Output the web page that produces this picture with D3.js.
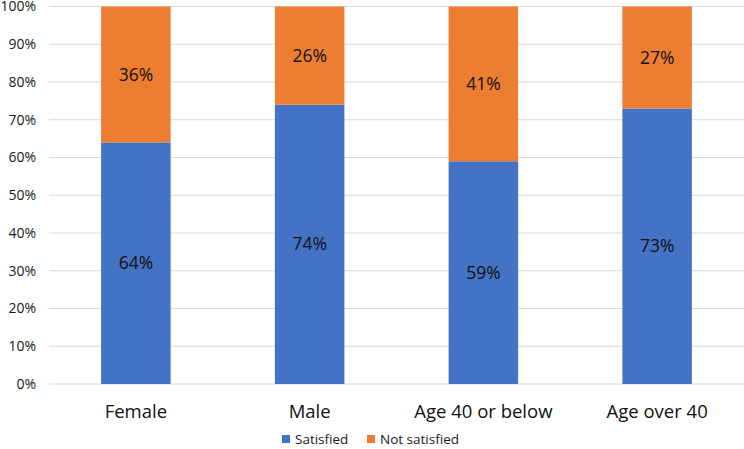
<!DOCTYPE html>
<html><head><meta charset="utf-8">
<script src="https://cdn.jsdelivr.net/npm/d3@7"></script>
<style>body{margin:0;background:#fff;}svg{display:block;font-family:"Open Sans",sans-serif;}</style>
</head><body><svg id="c" width="744" height="449"></svg>
<script>
const categories = ["Female", "Male", "Age 40 or below", "Age over 40"];
const satisfied = [64, 74, 59, 73];
const notSatisfied = [36, 26, 41, 27];
const yTicks = [0, 10, 20, 30, 40, 50, 60, 70, 80, 90, 100];
const seriesNames = ["Satisfied", "Not satisfied"];
const colors = ["#4472C4", "#ED7D31"];

(function () {
const svg = d3.select("#c");
const mLeft = 49, mRight = 744, mTop = 6.5, mBottom = 384;
const x = d3.scaleBand().domain(categories).range([mLeft, mRight]).paddingInner(0.6).paddingOuter(0.3);
const y = d3.scaleLinear().domain([0, 100]).range([mBottom, mTop]);

svg.append("g").selectAll("line").data(yTicks).join("line")
  .attr("x1", mLeft).attr("x2", mRight).attr("y1", d => y(d)).attr("y2", d => y(d))
  .attr("stroke", "#d9d9d9").attr("stroke-width", 1);

svg.append("g").selectAll("text").data(yTicks).join("text")
  .attr("x", 36).attr("y", d => y(d)).attr("dy", "0.35em").attr("text-anchor", "end")
  .attr("font-size", 14).attr("fill", "#1a1a1a").text(d => d + "%");

const data = categories.map((c, i) => ({c, s: satisfied[i], n: notSatisfied[i]}));
const g = svg.append("g");
g.selectAll("rect.s").data(data).join("rect").attr("class", "s")
  .attr("x", d => x(d.c)).attr("width", x.bandwidth())
  .attr("y", d => y(d.s)).attr("height", d => y(0) - y(d.s)).attr("fill", colors[0]);
g.selectAll("rect.n").data(data).join("rect").attr("class", "n")
  .attr("x", d => x(d.c)).attr("width", x.bandwidth())
  .attr("y", d => y(d.s + d.n)).attr("height", d => y(d.s) - y(d.s + d.n)).attr("fill", colors[1]);

g.selectAll("text.s").data(data).join("text").attr("class", "s")
  .attr("x", d => x(d.c) + x.bandwidth() / 2).attr("y", d => y(d.s / 2)).attr("dy", "0.35em")
  .attr("text-anchor", "middle").attr("font-size", 17.5).attr("fill", "#111").text(d => d.s + "%");
g.selectAll("text.n").data(data).join("text").attr("class", "n")
  .attr("x", d => x(d.c) + x.bandwidth() / 2).attr("y", d => y(d.s + d.n / 2)).attr("dy", "0.35em")
  .attr("text-anchor", "middle").attr("font-size", 17.5).attr("fill", "#111").text(d => d.n + "%");

svg.append("g").selectAll("text").data(categories).join("text")
  .attr("x", d => x(d) + x.bandwidth() / 2).attr("y", 418).attr("text-anchor", "middle")
  .attr("font-size", 18.5).attr("fill", "#111").text(d => d);

const leg = svg.append("g");
const legX = [282, 367];
seriesNames.forEach((n, i) => {
  leg.append("rect").attr("x", legX[i]).attr("y", 435).attr("width", 8).attr("height", 8).attr("fill", colors[i]);
  leg.append("text").attr("x", legX[i] + 13).attr("y", 443.5).attr("font-size", 13.5).attr("fill", "#1a1a1a").text(n);
});
})();
</script></body></html>
